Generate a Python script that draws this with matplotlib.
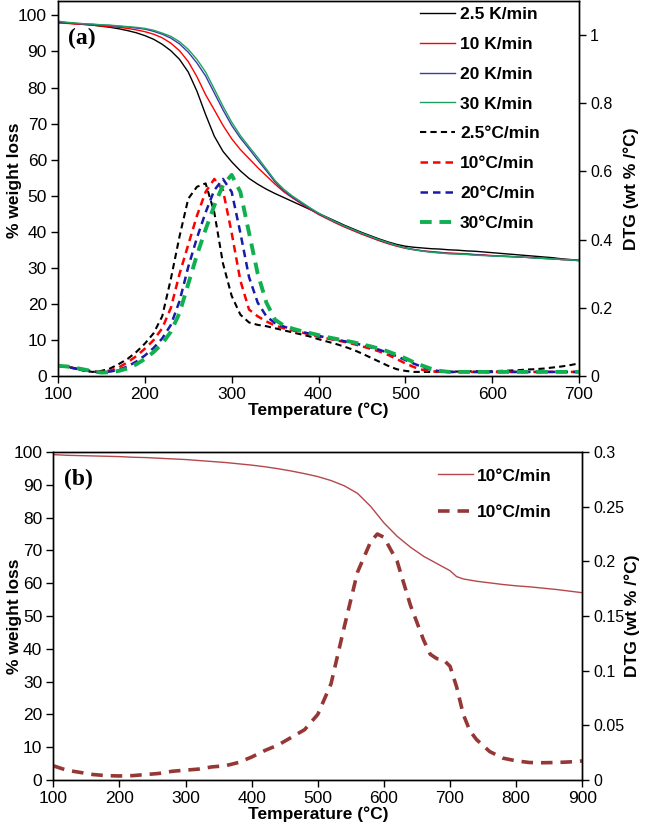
import matplotlib
matplotlib.use("Agg")
import matplotlib.pyplot as plt

plt.rcParams['font.family'] = ['Liberation Sans', 'DejaVu Sans']

# ---------------- Panel (a) data ----------------
temp_a = list(range(100, 701, 10))

tg_2_5 = [98.1, 97.9, 97.7, 97.5, 97.3, 97.0, 96.7, 96.3, 95.8, 95.2,
          94.4, 93.4, 92.0, 90.2, 87.8, 84.3, 79.0, 72.5, 66.5, 62.3,
          59.4, 56.9, 54.8, 53.2, 51.8, 50.6, 49.5, 48.4, 47.3, 46.2,
          45.1, 44.0, 42.9, 41.8, 40.8, 39.8, 38.9, 38.0, 37.2, 36.5,
          36.0, 35.7, 35.5, 35.3, 35.2, 35.0, 34.9, 34.7, 34.6, 34.4,
          34.2, 34.0, 33.8, 33.6, 33.4, 33.2, 33.0, 32.8, 32.5, 32.3, 32.1]
tg_10 = [97.9, 97.8, 97.6, 97.5, 97.3, 97.1, 96.9, 96.7, 96.4, 96.0,
         95.5, 94.8, 93.8, 92.3, 90.2, 87.2, 83.0, 78.0, 73.8, 69.5,
         65.8, 62.8, 60.3, 57.8, 55.5, 53.2, 51.1, 49.4, 47.8, 46.3,
         44.8, 43.6, 42.4, 41.3, 40.3, 39.3, 38.4, 37.5, 36.7, 36.0,
         35.4, 35.0, 34.7, 34.5, 34.3, 34.1, 34.0, 33.9, 33.7, 33.6,
         33.4, 33.3, 33.2, 33.0, 32.9, 32.8, 32.6, 32.5, 32.3, 32.2, 32.0]
tg_20 = [98.3, 98.0, 97.8, 97.6, 97.5, 97.3, 97.2, 97.0, 96.8, 96.5,
         96.2, 95.6, 94.8, 93.7, 92.1, 89.8, 86.8, 83.2, 78.5, 73.8,
         69.5, 66.0, 63.0, 59.9, 56.9, 53.8, 51.4, 49.6, 48.0, 46.5,
         45.0, 43.8, 42.6, 41.5, 40.5, 39.5, 38.6, 37.7, 36.9, 36.2,
         35.6, 35.1, 34.7, 34.4, 34.2, 34.0, 33.9, 33.8, 33.6, 33.5,
         33.3, 33.2, 33.1, 33.0, 32.9, 32.7, 32.6, 32.5, 32.3, 32.2, 32.0]
tg_30 = [98.4, 98.1, 97.9, 97.7, 97.6, 97.4, 97.3, 97.1, 96.9, 96.7,
         96.4, 95.9, 95.1, 94.2, 92.7, 90.6, 87.8, 84.3, 79.6, 74.8,
         70.4, 66.7, 63.6, 60.6, 57.4, 54.2, 51.8, 49.9, 48.3, 46.7,
         45.2, 43.9, 42.7, 41.6, 40.6, 39.6, 38.7, 37.8, 37.0, 36.2,
         35.5, 35.0, 34.6, 34.3, 34.1, 33.9, 33.8, 33.7, 33.5, 33.4,
         33.3, 33.2, 33.1, 33.0, 32.9, 32.7, 32.6, 32.5, 32.3, 32.2, 32.0]

dtg_2_5 = [0.030, 0.028, 0.022, 0.015, 0.012, 0.015, 0.022, 0.035, 0.050, 0.070,
           0.095, 0.125, 0.175, 0.285, 0.410, 0.520, 0.555, 0.565, 0.480, 0.330,
           0.235, 0.180, 0.157, 0.150, 0.146, 0.140, 0.134, 0.128, 0.122, 0.116,
           0.108, 0.101, 0.094, 0.086, 0.077, 0.066, 0.054, 0.042, 0.030, 0.020,
           0.015, 0.012, 0.012, 0.012, 0.013, 0.013, 0.013, 0.013, 0.014, 0.014,
           0.014, 0.015, 0.016, 0.017, 0.019, 0.020, 0.022, 0.025, 0.028, 0.032, 0.037]
dtg_10 = [0.030, 0.027, 0.022, 0.018, 0.014, 0.012, 0.016, 0.025, 0.040, 0.058,
          0.080, 0.105, 0.140, 0.200, 0.300, 0.385, 0.470, 0.540, 0.578, 0.545,
          0.420, 0.280, 0.195, 0.175, 0.160, 0.148, 0.140, 0.134, 0.128, 0.122,
          0.115, 0.110, 0.105, 0.100, 0.094, 0.087, 0.080, 0.072, 0.062, 0.050,
          0.037, 0.026, 0.018, 0.014, 0.012, 0.012, 0.012, 0.012, 0.012, 0.012,
          0.012, 0.012, 0.012, 0.012, 0.012, 0.012, 0.012, 0.012, 0.012, 0.012, 0.012]
dtg_20 = [0.030, 0.027, 0.022, 0.017, 0.013, 0.010, 0.013, 0.018, 0.028, 0.042,
          0.060, 0.082, 0.110, 0.150, 0.220, 0.320, 0.405, 0.480, 0.545, 0.578,
          0.540, 0.420, 0.290, 0.215, 0.175, 0.155, 0.145, 0.137, 0.130, 0.124,
          0.118, 0.112, 0.107, 0.102, 0.097, 0.091, 0.084, 0.077, 0.068, 0.058,
          0.047, 0.036, 0.026, 0.018, 0.014, 0.012, 0.012, 0.012, 0.012, 0.012,
          0.012, 0.012, 0.012, 0.012, 0.012, 0.012, 0.012, 0.012, 0.012, 0.012, 0.012]
dtg_30 = [0.030, 0.028, 0.024, 0.019, 0.014, 0.010, 0.011, 0.015, 0.022, 0.034,
          0.050, 0.070, 0.095, 0.130, 0.185, 0.270, 0.355, 0.430, 0.500, 0.560,
          0.590, 0.540, 0.420, 0.300, 0.215, 0.165, 0.148, 0.139, 0.132, 0.126,
          0.120, 0.114, 0.109, 0.104, 0.099, 0.093, 0.087, 0.080, 0.072, 0.062,
          0.052, 0.040, 0.030, 0.021, 0.015, 0.012, 0.012, 0.012, 0.012, 0.012,
          0.012, 0.012, 0.012, 0.012, 0.012, 0.012, 0.012, 0.012, 0.012, 0.012, 0.012]

labels_tg_a = ["2.5 K/min", "10 K/min", "20 K/min", "30 K/min"]
labels_dtg_a = ["2.5°C/min", "10°C/min", "20°C/min", "30°C/min"]

# ---------------- Panel (b) data ----------------
temp_b_tg = [100, 120, 140, 160, 180, 200, 220, 240, 260, 280, 300, 320, 340, 360,
             380, 400, 420, 440, 460, 480, 500, 520, 540, 560, 580, 600, 620, 640,
             660, 680, 700, 710, 720, 740, 760, 780, 800, 820, 840, 860, 880, 900]
tg_b = [99.2, 99.0, 98.9, 98.8, 98.7, 98.6, 98.4, 98.3, 98.1, 97.9, 97.7, 97.4,
        97.1, 96.8, 96.4, 96.0, 95.5, 94.9, 94.2, 93.4, 92.5, 91.3, 89.7, 87.4,
        83.4, 78.4, 74.3, 71.0, 68.2, 66.0, 63.8, 62.0, 61.3, 60.6, 60.1, 59.6,
        59.2, 58.9, 58.5, 58.1, 57.6, 57.1]
temp_b_dtg = [100, 120, 140, 160, 180, 200, 220, 240, 260, 280, 300, 320, 340, 360,
              380, 400, 420, 440, 460, 480, 500, 520, 540, 560, 580, 590, 600, 620,
              640, 660, 670, 680, 690, 700, 710, 720, 730, 740, 760, 780, 800, 820,
              840, 860, 880, 900]
dtg_b = [0.013, 0.009, 0.007, 0.005, 0.004, 0.0037, 0.004, 0.005, 0.006, 0.008,
         0.009, 0.010, 0.012, 0.013, 0.016, 0.021, 0.027, 0.032, 0.039, 0.046,
         0.060, 0.088, 0.140, 0.190, 0.218, 0.225, 0.222, 0.200, 0.160, 0.128,
         0.115, 0.111, 0.110, 0.104, 0.085, 0.060, 0.045, 0.037, 0.026, 0.020,
         0.0175, 0.016, 0.0158, 0.016, 0.0165, 0.0174]
label_b = "10°C/min"

# ---------------- Figure ----------------
W, H = 645, 824
fig = plt.figure(figsize=(W / 100, H / 100), dpi=100)

TICK_FS = 12.5
RTICK_FS = 11.5
LABEL_FS = 12.5
LEG_FS = 12.5

def style(ax, ax2):
    ax.tick_params(direction='out', length=5, width=1, pad=3, labelsize=TICK_FS, colors='black')
    ax2.tick_params(direction='out', length=5, width=1, pad=3, labelsize=RTICK_FS, colors='black')
    for a in (ax, ax2):
        for s in a.spines.values():
            s.set_linewidth(1.0)
            s.set_color('black')

# Panel (a): axes spans x 58..579 px, y 1..376 px
axa = fig.add_axes([58 / W, 1 - 376 / H, (579 - 58) / W, 375 / H])
axa2 = axa.twinx()
cols_tg = ['black', '#ff0000', '#3a3aaa', '#20a060']
cols_dtg = ['black', '#ff0000', '#1a1aaa', '#10b050']
lws_dtg = [1.5, 1.8, 1.8, 2.8]
h = []
for tg, c, lab in zip([tg_2_5, tg_10, tg_20, tg_30], cols_tg, labels_tg_a):
    l, = axa.plot(temp_a, tg, color=c, lw=1.0, label=lab)
    h.append(l)
for dtg, c, lw, lab in zip([dtg_2_5, dtg_10, dtg_20, dtg_30], cols_dtg, lws_dtg, labels_dtg_a):
    l, = axa2.plot(temp_a, dtg, color=c, lw=lw, dashes=(3, 2), label=lab)
    h.append(l)
axa.set_xlim(100, 700)
axa.set_ylim(0, 104)
axa2.set_ylim(0, 1.1)
axa.set_xticks(range(100, 701, 100))
axa.set_yticks(range(0, 101, 10))
axa2.set_yticks([0, 0.2, 0.4, 0.6, 0.8, 1.0])
axa2.set_yticklabels(['0', '0.2', '0.4', '0.6', '0.8', '1'])
style(axa, axa2)
axa.set_xlabel('Temperature (°C)', fontsize=LABEL_FS, fontweight='bold', va='center')
axa.xaxis.set_label_coords(0.5, (376 - 410) / 375)
axa.set_ylabel('% weight loss', fontsize=LABEL_FS, fontweight='bold', va='center')
axa.yaxis.set_label_coords((15 - 58) / 521, (376 - 180) / 375)
axa2.set_ylabel('DTG (wt % /°C)', fontsize=LABEL_FS, fontweight='bold', va='center')
axa2.yaxis.set_label_coords((631 - 58) / 521, 0.5)
axa.text(0.02, 0.90, '(a)', transform=axa.transAxes, fontsize=17, fontweight='bold',
         family='Liberation Serif', va='center')
axa2.legend(handles=h, loc='upper left', bbox_to_anchor=(0.695, 0.985), frameon=False,
            prop={'weight': 'bold', 'size': LEG_FS}, handlelength=2.0, handletextpad=0.3,
            labelspacing=0.85, borderpad=0, borderaxespad=0)

# Panel (b): axes spans x 53..582 px, y 452..780 px
axb = fig.add_axes([53.3 / W, 1 - 780 / H, (582.3 - 53.3) / W, 328 / H])
axb2 = axb.twinx()
hb1, = axb.plot(temp_b_tg, tg_b, color='#b5474a', lw=1.0, label=label_b)
hb2, = axb2.plot(temp_b_dtg, dtg_b, color='#953735', lw=2.6, dashes=(3.2, 2.2), label=label_b)
axb.set_xlim(100, 900)
axb.set_ylim(0, 100)
axb2.set_ylim(0, 0.3)
axb.set_xticks(range(100, 901, 100))
axb.set_yticks(range(0, 101, 10))
axb2.set_yticks([0, 0.05, 0.1, 0.15, 0.2, 0.25, 0.3])
axb2.set_yticklabels(['0', '0.05', '0.1', '0.15', '0.2', '0.25', '0.3'])
style(axb, axb2)
axb.set_xlabel('Temperature (°C)', fontsize=LABEL_FS, fontweight='bold', va='center')
axb.xaxis.set_label_coords(0.5, (780 - 814) / 328)
axb.set_ylabel('% weight loss', fontsize=LABEL_FS, fontweight='bold', va='center')
axb.yaxis.set_label_coords((15 - 53.3) / 529, 0.5)
axb2.set_ylabel('DTG (wt % /°C)', fontsize=LABEL_FS, fontweight='bold', va='center')
axb2.yaxis.set_label_coords((632 - 53.3) / 529, 0.5)
axb.text(0.02, 0.915, '(b)', transform=axb.transAxes, fontsize=17, fontweight='bold',
         family='Liberation Serif', va='center')
axb2.legend(handles=[hb1, hb2], loc='upper left', bbox_to_anchor=(0.728, 0.95), frameon=False,
            prop={'weight': 'bold', 'size': LEG_FS}, handlelength=2.0, handletextpad=0.2,
            labelspacing=1.25, borderpad=0, borderaxespad=0)

fig.savefig('out.png', dpi=100)
